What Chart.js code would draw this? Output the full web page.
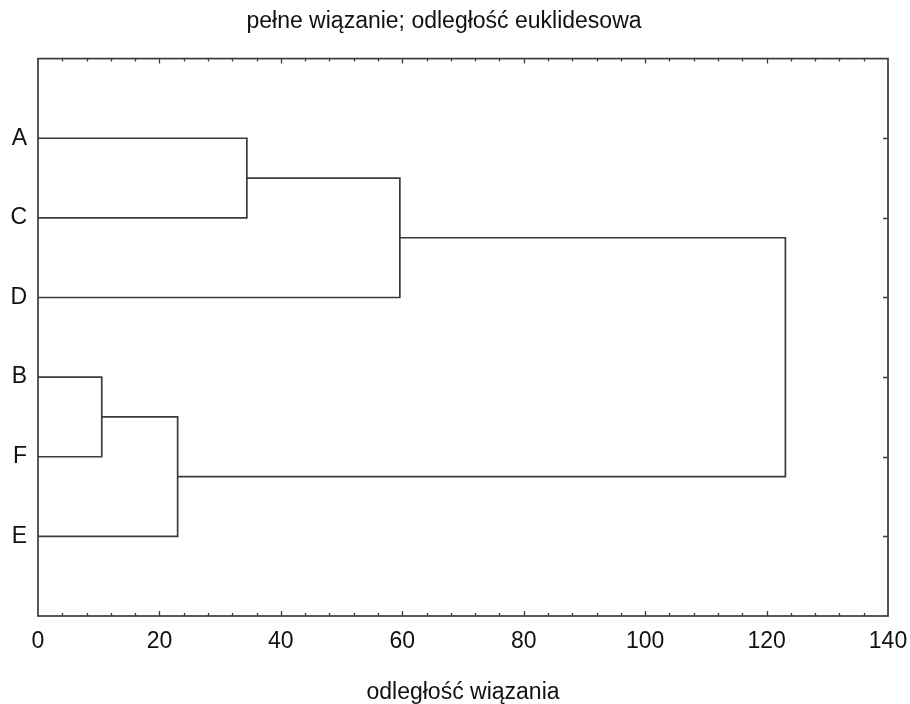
<!DOCTYPE html>
<html>
<head>
<meta charset="utf-8">
<script src="https://cdn.jsdelivr.net/npm/chart.js@4.4.1/dist/chart.umd.min.js"></script>
<style>
  html, body { margin: 0; padding: 0; background: #fff; }
  #wrap { width: 910px; height: 704px; }
</style>
</head>
<body>
<div id="wrap"><canvas id="dendro"></canvas></div>
<script>
// liście w kolejności na wykresie (od góry)
const leaves = ['A', 'C', 'D', 'B', 'F', 'E'];
// łączenia: indeksy 0-5 to liście, 6+ to kolejne skupienia
const joinLeft  = [3, 6, 0, 8, 9];
const joinRight = [4, 5, 1, 2, 7];
const joinDist  = [10.5, 23.0, 34.4, 59.6, 123.1];
const xTicks = [0, 20, 40, 60, 80, 100, 120, 140];

const lineColor = '#363c43';
const fontFam = '"Liberation Sans", Arial, sans-serif';

// pozycje węzłów
const nodeY = leaves.map((l, i) => i + 1);
const nodeX = leaves.map(() => 0);
joinDist.forEach((d, k) => {
    nodeY.push((nodeY[joinLeft[k]] + nodeY[joinRight[k]]) / 2);
    nodeX.push(d);
});

const datasets = joinDist.map((d, k) => {
    const l = joinLeft[k], r = joinRight[k];
    return {
        data: [
            { x: nodeX[l], y: nodeY[l] },
            { x: d, y: nodeY[l] },
            { x: d, y: nodeY[r] },
            { x: nodeX[r], y: nodeY[r] }
        ],
        showLine: true,
        borderColor: lineColor,
        borderWidth: 1.7,
        pointRadius: 0,
        fill: false,
        tension: 0
    };
});

// ramka i krótkie kreski do środka
const framePlugin = {
    id: 'frame',
    afterDraw(chart) {
        const { ctx, chartArea: a, scales } = chart;
        ctx.save();
        ctx.strokeStyle = lineColor;
        ctx.lineWidth = 1.7;
        ctx.strokeRect(a.left, a.top, a.right - a.left, a.bottom - a.top);
        ctx.lineWidth = 1.3;
        ctx.beginPath();
        for (let v = 4; v < 140; v += 4) {
            const px = Math.round(scales.x.getPixelForValue(v)) + 0.5;
            const len = v % 20 === 0 ? 5 : 3;
            ctx.moveTo(px, a.bottom); ctx.lineTo(px, a.bottom - len);
            ctx.moveTo(px, a.top); ctx.lineTo(px, a.top + len);
        }
        leaves.forEach((l, i) => {
            const py = Math.round(scales.y.getPixelForValue(i + 1)) + 0.5;
            ctx.moveTo(a.right, py); ctx.lineTo(a.right - 5, py);
        });
        ctx.stroke();
        ctx.restore();
    }
};

new Chart(document.getElementById('dendro'), {
    type: 'scatter',
    data: { datasets },
    plugins: [framePlugin],
    options: {
        responsive: true,
        maintainAspectRatio: false,
        animation: false,
        layout: { padding: { right: 22, left: 0, top: 0, bottom: 0 } },
        plugins: {
            legend: { display: false },
            tooltip: { enabled: false },
            title: {
                display: true,
                text: 'pełne wiązanie; odległość euklidesowa',
                color: '#111',
                font: { family: fontFam, size: 23, weight: 'normal' },
                padding: { top: 8, bottom: 23 }
            }
        },
        scales: {
            x: {
                type: 'linear',
                min: 0, max: 140,
                afterBuildTicks: s => { s.ticks = xTicks.map(v => ({ value: v })); },
                afterFit: s => { s.height = 88; s.paddingLeft = 0; s.paddingRight = 0; },
                grid: { display: false, drawTicks: false },
                border: { display: false },
                ticks: {
                    color: '#111',
                    padding: 12,
                    maxRotation: 0,
                    font: { family: fontFam, size: 23 }
                },
                title: {
                    display: true,
                    text: 'odległość wiązania',
                    color: '#111',
                    font: { family: fontFam, size: 23 },
                    padding: { top: 0, bottom: -2 }
                }
            },
            y: {
                type: 'linear',
                reverse: true,
                min: 0, max: 7,
                afterBuildTicks: s => { s.ticks = leaves.map((l, i) => ({ value: i + 1 })); },
                afterFit: s => { s.width = 38; s.paddingTop = 0; s.paddingBottom = 0; },
                grid: { display: false, drawTicks: false },
                border: { display: false },
                ticks: {
                    color: '#111',
                    padding: 11,
                    font: { family: fontFam, size: 23 },
                    callback: v => leaves[v - 1]
                }
            }
        }
    }
});
</script>
</body>
</html>
